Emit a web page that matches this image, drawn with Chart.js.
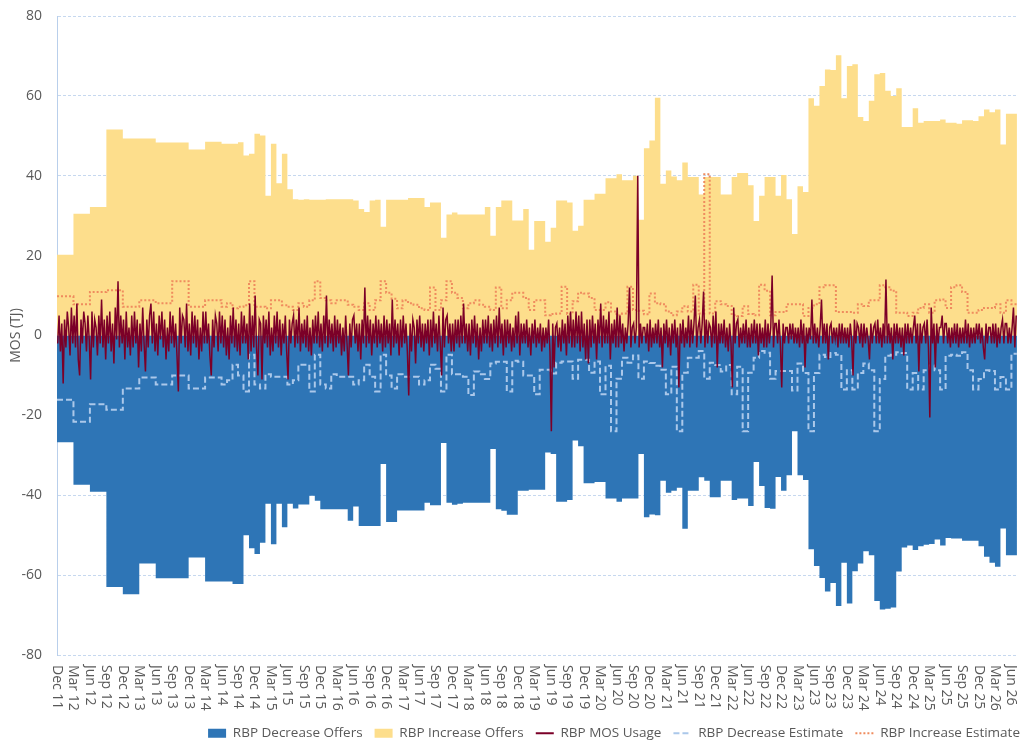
<!DOCTYPE html>
<html>
<head>
<meta charset="utf-8">
<script src="https://cdn.jsdelivr.net/npm/chart.js@4.4.1/dist/chart.umd.min.js"></script>
<style>
html,body{margin:0;padding:0;background:#ffffff;}
#wrap{width:1035px;height:748px;position:relative;}
</style>
</head>
<body>
<div id="wrap"><canvas id="c" width="1035" height="748"></canvas></div>
<script>
// Quarterly tick labels (one every 3 months, starting Dec 2011)
const tickLabels = [
  'Dec 11',
  'Mar 12','Jun 12','Sep 12','Dec 12',
  'Mar 13','Jun 13','Sep 13','Dec 13',
  'Mar 14','Jun 14','Sep 14','Dec 14',
  'Mar 15','Jun 15','Sep 15','Dec 15',
  'Mar 16','Jun 16','Sep 16','Dec 16',
  'Mar 17','Jun 17','Sep 17','Dec 17',
  'Mar 18','Jun 18','Sep 18','Dec 18',
  'Mar 19','Jun 19','Sep 19','Dec 19',
  'Mar 20','Jun 20','Sep 20','Dec 20',
  'Mar 21','Jun 21','Sep 21','Dec 21',
  'Mar 22','Jun 22','Sep 22','Dec 22',
  'Mar 23','Jun 23','Sep 23','Dec 23',
  'Mar 24','Jun 24','Sep 24','Dec 24',
  'Mar 25','Jun 25','Sep 25','Dec 25',
  'Mar 26','Jun 26'
];

// Monthly values, Dec 2011 .. Jun 2026 (TJ)
const incOffers = [
  20.2,
  20.2,20.2,30.5,30.5,30.5,32.2,32.2,32.2,51.6,51.6,51.6,49.3,
  49.3,49.3,49.3,49.3,49.3,48.3,48.3,48.3,48.3,48.3,48.3,46.6,
  46.6,46.6,48.5,48.5,48.5,48.0,48.0,48.0,48.4,45.1,45.5,50.5,
  50.1,35.0,48.0,38.1,45.5,36.6,34.1,34.0,34.1,34.0,34.0,34.0,
  34.1,34.1,34.1,34.1,34.1,33.8,31.7,30.9,33.8,34.0,27.2,34.0,
  34.0,34.0,34.0,34.4,34.4,34.4,32.2,33.3,33.3,24.5,30.3,30.8,
  30.3,30.3,30.3,30.3,30.3,32.2,25.0,32.2,33.8,33.8,28.8,28.8,
  31.7,21.5,28.7,28.7,23.5,27.0,33.8,33.8,33.3,26.2,27.5,34.0,
  34.0,35.5,35.5,39.4,39.4,40.4,38.9,38.9,40.0,29.0,46.9,48.8,
  59.5,38.0,41.3,39.8,38.9,43.3,39.7,39.7,35.3,39.7,39.7,39.7,
  35.3,35.3,39.7,40.7,40.7,37.6,28.7,35.0,39.7,39.7,35.0,40.2,
  34.1,25.4,37.4,35.9,59.4,57.5,62.5,66.6,66.5,70.2,59.4,67.5,
  67.9,54.7,53.7,58.8,65.4,65.7,61.3,60.0,61.9,52.2,52.2,56.9,
  53.3,53.7,53.7,53.7,54.1,53.3,53.3,53.0,53.9,53.9,53.7,54.9,
  56.6,55.9,56.6,47.8,55.5,55.5
];
const decOffers = [
  -26.7,
  -26.7,-26.7,-37.4,-37.4,-37.4,-39.1,-39.1,-39.1,-63.0,-63.0,-63.0,-64.8,
  -64.8,-64.8,-57.1,-57.1,-57.1,-60.8,-60.8,-60.8,-60.8,-60.8,-60.8,-55.6,
  -55.6,-55.6,-61.6,-61.6,-61.6,-61.6,-61.6,-62.2,-62.2,-50.0,-53.3,-54.7,
  -51.9,-42.1,-52.3,-42.1,-48.0,-42.1,-43.3,-42.3,-42.3,-40.1,-41.4,-43.5,
  -43.5,-43.5,-43.5,-43.5,-46.4,-42.8,-47.7,-47.7,-47.7,-47.7,-32.2,-46.7,
  -46.7,-43.8,-43.8,-43.8,-43.8,-43.8,-41.9,-42.5,-42.5,-26.9,-41.9,-42.4,
  -42.1,-41.9,-41.9,-41.9,-41.9,-41.9,-28.4,-43.5,-43.9,-44.9,-44.9,-38.9,
  -38.9,-38.6,-38.6,-38.6,-29.3,-29.7,-41.6,-41.6,-41.2,-26.3,-27.7,-37.0,
  -37.0,-36.7,-36.7,-40.8,-40.8,-41.6,-40.8,-40.8,-40.8,-29.7,-45.5,-44.8,
  -45.0,-36.4,-39.4,-38.9,-38.1,-48.4,-38.9,-38.9,-35.5,-36.4,-40.5,-40.5,
  -36.4,-36.4,-41.2,-40.8,-40.8,-42.7,-31.7,-37.7,-43.2,-43.4,-35.4,-38.9,
  -35.0,-24.0,-35.0,-36.2,-53.5,-57.7,-60.7,-64.1,-62.0,-67.7,-56.9,-67.1,
  -59.0,-57.1,-54.0,-55.0,-66.5,-68.6,-68.4,-68.1,-59.1,-53.1,-52.6,-53.7,
  -52.8,-52.4,-52.2,-51.1,-52.6,-50.7,-50.8,-50.8,-51.4,-51.4,-51.4,-52.8,
  -55.4,-56.9,-57.9,-48.3,-55.0,-55.0
];
const incEstimate = [
  9.8,
  9.8,9.8,7.8,7.8,7.8,10.9,10.9,10.9,11.3,11.3,11.3,7.2,
  7.2,7.2,8.8,8.8,8.8,8.1,8.1,8.1,13.6,13.6,13.6,7.2,
  7.2,7.2,8.8,8.8,8.8,7.2,8.1,6.8,7.2,7.6,13.6,7.2,
  7.2,6.8,8.8,8.8,7.6,7.2,6.4,8.1,7.2,8.8,13.6,9.4,
  8.8,8.1,8.8,8.8,7.7,7.2,6.4,8.1,6.4,8.8,13.6,10.7,
  9.2,6.8,8.8,8.1,7.7,6.8,6.4,12.0,6.4,8.8,13.6,10.7,
  9.4,6.8,8.1,8.8,7.7,7.2,6.4,12.0,6.8,8.8,10.7,10.7,
  9.4,6.4,8.8,8.8,5.1,5.4,5.5,12.2,5.4,8.6,10.7,10.5,
  9.4,6.4,6.4,8.3,6.0,5.1,5.5,12.2,6.4,6.2,5.3,10.5,
  8.1,7.8,6.0,5.1,6.0,7.3,6.0,12.7,5.5,40.4,5.5,8.6,
  7.8,7.4,5.1,4.9,7.3,5.4,5.1,12.7,11.2,5.1,5.9,5.9,
  7.8,7.8,7.8,4.9,6.9,7.8,12.1,12.6,12.6,5.9,5.9,5.9,
  5.7,7.8,7.4,8.8,8.8,12.6,12.1,11.2,5.7,5.7,4.9,5.7,
  6.9,7.8,5.7,8.8,9.0,6.9,12.1,12.6,10.9,5.7,5.7,6.4,
  6.9,6.9,7.8,5.7,8.8,7.8
];
const decEstimate = [
  -16.1,
  -16.1,-16.1,-21.6,-21.6,-21.6,-17.2,-17.2,-17.2,-18.6,-18.6,-18.6,-13.3,
  -13.3,-13.3,-10.5,-10.5,-10.5,-12.3,-12.3,-12.3,-10.0,-10.0,-10.0,-13.3,
  -13.3,-13.3,-10.5,-10.5,-10.5,-12.3,-11.2,-7.3,-10.0,-14.0,-4.8,-12.3,
  -13.3,-9.7,-10.3,-10.3,-10.3,-12.3,-11.2,-7.3,-7.3,-14.0,-4.8,-12.3,
  -13.3,-9.7,-10.3,-10.3,-10.3,-12.3,-11.2,-7.3,-10.3,-14.0,-4.8,-10.0,
  -13.3,-9.7,-10.3,-10.3,-10.3,-12.3,-11.2,-7.3,-8.3,-14.0,-4.8,-9.7,
  -9.7,-10.3,-14.9,-9.0,-9.7,-10.9,-7.0,-6.6,-6.6,-14.0,-6.3,-6.6,
  -10.0,-10.0,-14.7,-8.6,-8.6,-9.5,-6.8,-6.5,-6.5,-10.8,-6.1,-6.1,
  -9.3,-6.5,-14.7,-7.6,-24.0,-10.8,-5.6,-6.8,-5.0,-10.8,-6.5,-6.9,
  -7.6,-8.6,-14.7,-7.8,-24.0,-9.3,-5.6,-5.6,-3.9,-10.8,-6.8,-7.4,
  -9.0,-7.4,-14.7,-7.8,-24.0,-9.3,-5.6,-3.9,-4.3,-10.8,-8.9,-8.9,
  -8.9,-13.8,-7.0,-9.4,-24.0,-9.4,-4.8,-5.4,-4.4,-4.8,-13.5,-8.7,
  -13.5,-9.4,-7.0,-8.7,-24.0,-10.9,-5.1,-4.8,-4.2,-4.4,-13.5,-9.4,
  -13.5,-8.7,-7.5,-8.7,-13.5,-5.1,-4.8,-5.1,-4.2,-8.7,-13.5,-10.9,
  -8.7,-8.9,-13.5,-10.4,-13.5,-4.6
];
// MOS usage, four readings per month (Dec 2011 .. Jun 2026)
const mosUsage = [
  -2,5,-4,3,
  -12,4,-3,6, 2,-5,7,-2, 5,-3,8,-6, -10,4,-2,6, 3,-4,5,-1, -11,6,-3,4, 2,-5,5,-2, 9,-3,4,-6, 5,-2,6,-4, 3,-7,7,-1, 13.6,-3,5,-2, 4,-6,6,-3,
  2,-5,5,-3, 6,-2,4,-8, 3,-4,7,-2, -9,4,-3,5, 8,-2,6,-4, 3,-5,5,-1, 6,-3,4,-6, 2,-4,6,-2, 5,-3,3,-5, -14,7,-2,5, 4,-3,8,-4, 3,-5,6,-2,
  5,-3,4,-6, 2,-4,6,-2, 6,-2,3,-5, -10,4,-3,5, 3,-4,6,-2, 5,-3,4,-5, 2,-6,5,-2, 7,-3,4,-4, 3,-5,6,-2, 5,-2,3,-6, 8,-4,5,-3, 10,-3,-10,4,
  3,-11,5,-2, 4,-3,6,-5, 2,-4,5,-2, 6,-3,4,-5, 3,-2,5,-4, -11,4,-2,3, 5,-3,4,-2, 7,-4,3,-2, 4,-3,5,-4, 2,-5,4,-2, 5,-2,6,-3, 3,-4,5,-2,
  10,-3,4,-2, 3,-4,5,-3, 4,-2,3,-5, 2,-4,5,-2, -10,3,-3,4, 5,-2,3,-4, 3,-6,4,-2, 12,-3,5,-2, 4,-5,3,-2, 5,-3,4,-2, 3,-4,5,-3, 4,-2,3,-5,
  9,-3,4,-2, 3,-5,4,-3, 5,-2,3,-4, -15,3,-4,4, 2,-7,4,-2, 5,-3,3,-4, 3,-2,4,-5, 4,-3,6,-2, 3,-4,5,-2, -10,7,-3,4, 5,-2,3,-4, 3,-4,4,-2,
  4,-3,5,-2, 8,-2,3,-4, 3,-5,4,-2, 5,-3,3,-6, 2,-4,4,-2, 4,-2,5,-3, 3,-4,4,-2, 5,-3,7,-2, 3,-5,4,-3, 4,-2,3,-4, 2,-3,5,-2, 6,-5,3,-2,
  3,-2,4,-3, 2,-5,3,-2, 4,-3,2,-2, 3,-4,2,-3, 2,-2,4,-4, -24,3,-8,2, 3,-3,2,-4, 4,-2,3,-5, 5,-2,6,-3, 4,-3,6,-2, 5,-4,6,-3, 3,-6,4,-7,
  4,-3,5,-2, 3,-6,4,-2, 8,-3,5,-2, 4,-2,6,-6, 3,-2,4,-3, 7,-3,5,-2, 3,-4,2,-2, 3,12,-3,2, 3,-2,2,40, -3,3,-2,2, 2,-2,3,-4, 4,-3,2,-2,
  3,-2,4,-3, 2,-8,3,-2, 4,-3,2,-5, 3,-2,4,-3, 2,-13,3,-2, 4,-3,2,-2, 5,-3,4,-2, 3,10,-3,2, 4,-2,3,11, -3,4,-2,3, 2,-3,5,-2, 6,-8,3,-2,
  3,-2,4,-3, 2,-4,3,-2, -13,7,-2,3, 4,-3,2,-2, 3,-2,4,-3, 2,-3,3,-2, 4,-2,3,-5, 3,-2,2,-3, 4,-3,3,-2, 2,15,-3,3, 3,-2,4,-2, -13,3,-2,2,
  2,-2,3,-1, 3,-2,2,-2, 2,-3,4,-2, 3,-8,2,-2, 2,-1,9,-2, 3,-2,2,-3, 2,9,-2,3, -2,3,-6,2, 3,-2,2,-1, 2,-3,3,-2, 3,-2,2,-2, 2,-3,3,-1,
  -10,4,-2,3, 2,-2,3,-3, 3,-2,2,-1, -6,3,-2,2, 3,-2,4,-2, 2,-3,3,-2, 14,-2,3,-2, 2,-6,3,-2, 3,-2,2,-3, 2,-5,3,-2, 3,-2,2,-2, 2,5,-2,3,
  -9,3,-2,2, 3,-2,4,-3, -20.5,7,-2,3, -8,3,-2,2, 2,5,-2,3, 3,-2,2,-3, 2,-2,3,-2, 3,-3,2,-2, 2,-2,4,-2, 3,-3,2,-2, 2,-2,3,-1, 3,-2,2,-3,
  -6,3,-2,2, 2,-2,3,-2, 3,-3,2,-2, 2,4,-2,3, 3,-2,2,-2, 2,7,-3,5
];

const FONT = '"Open Sans", "Noto Sans", sans-serif';
const TEXT = '#595959';
const PLOT_BOTTOM = 655;

// month-step series: each value holds for its whole month
function monthSteps(values) {
  const pts = values.map((v, i) => ({ x: i, y: v }));
  pts.push({ x: values.length, y: values[values.length - 1] });
  return pts;
}
// four readings per month, placed within the month
function weeklyPoints(values) {
  return values.map((v, i) => ({ x: (i + 0.5) / 4, y: v }));
}

const xLabelPlugin = {
  id: 'xLabels',
  afterLayout(chart) {
    const lg = chart.legend;
    if (lg) { lg.left += 14; lg.right += 14; lg.top += 2; lg.bottom += 2; }
  },
  afterDraw(chart) {
    const s = chart.scales.x;
    const ctx = chart.ctx;
    ctx.save();
    ctx.fillStyle = TEXT;
    ctx.font = '14px ' + FONT;
    ctx.textAlign = 'left';
    ctx.textBaseline = 'middle';
    s.ticks.forEach((t, i) => {
      const px = s.getPixelForValue(t.value);
      ctx.save();
      ctx.translate(px, s.top + 10);
      ctx.rotate(Math.PI / 2);
      ctx.fillText(tickLabels[i], 0, 0);
      ctx.restore();
    });
    ctx.restore();
  }
};

new Chart(document.getElementById('c'), {
  type: 'line',
  data: {
    datasets: [
      { label: 'RBP Decrease Offers', data: monthSteps(decOffers), stepped: true, fill: 'origin',
        backgroundColor: '#2E75B6', borderColor: '#2E75B6', borderWidth: 0, pointRadius: 0, order: 5 },
      { label: 'RBP Increase Offers', data: monthSteps(incOffers), stepped: true, fill: 'origin',
        backgroundColor: '#FDDE8C', borderColor: '#FDDE8C', borderWidth: 0, pointRadius: 0, order: 4 },
      { label: 'RBP MOS Usage', data: weeklyPoints(mosUsage), fill: false,
        borderColor: '#7B0028', backgroundColor: '#7B0028', borderWidth: 1.5, pointRadius: 0, tension: 0, order: 1 },
      { label: 'RBP Decrease Estimate', data: monthSteps(decEstimate), stepped: true, fill: false,
        borderColor: '#ABC8EA', backgroundColor: '#ABC8EA', borderWidth: 2, borderDash: [6, 3], pointRadius: 0, order: 3 },
      { label: 'RBP Increase Estimate', data: monthSteps(incEstimate), stepped: true, fill: false,
        borderColor: '#EF8C5E', backgroundColor: '#EF8C5E', borderWidth: 2, borderDash: [2, 2], pointRadius: 0, order: 2 }
    ]
  },
  options: {
    responsive: false,
    animation: false,
    devicePixelRatio: 1,
    layout: { padding: { left: 0, right: 17, top: 16, bottom: 0 } },
    scales: {
      x: {
        type: 'linear', min: 0, max: 175.2,
        grid: { display: false },
        border: { display: false },
        ticks: { display: false },
        afterBuildTicks: s => { s.ticks = tickLabels.map((t, i) => ({ value: i * 3 })); },
        afterFit: s => {
          const lh = s.chart.legend ? s.chart.legend.height : 37;
          s.height = s.chart.height - PLOT_BOTTOM - lh;
        }
      },
      y: {
        min: -80, max: 80,
        ticks: { stepSize: 20, color: TEXT, font: { family: FONT, size: 14 }, padding: 15 },
        grid: { color: '#C6D8EF', lineWidth: 1, drawTicks: false },
        border: { display: true, color: '#B9CFEB', width: 1, dash: [3, 2] },
        title: { display: true, text: 'MOS (TJ)', color: TEXT, font: { family: FONT, size: 14 }, padding: { top: 8, bottom: 0 } },
        afterFit: s => { s.width = 57; s.paddingTop = 0; s.paddingBottom = 0; }
      }
    },
    plugins: {
      tooltip: { enabled: false },
      legend: {
        position: 'bottom',
        align: 'end',
        labels: {
          usePointStyle: true,
          pointStyleWidth: 18,
          boxHeight: 9,
          padding: 12,
          color: TEXT,
          font: { family: FONT, size: 13.5 },
          sort: (a, b) => a.datasetIndex - b.datasetIndex,
          generateLabels: chart => {
            const items = Chart.defaults.plugins.legend.labels.generateLabels(chart);
            items.forEach(it => {
              const ds = chart.data.datasets[it.datasetIndex];
              if (ds.fill) {
                it.pointStyle = 'rect';
                it.fillStyle = ds.backgroundColor;
                it.strokeStyle = ds.backgroundColor;
                it.lineWidth = 0;
              } else {
                it.pointStyle = 'line';
                it.strokeStyle = ds.borderColor;
                it.lineWidth = 2;
                it.lineDash = ds.borderDash || [];
              }
            });
            return items;
          }
        }
      }
    }
  },
  plugins: [xLabelPlugin]
});
</script>
</body>
</html>
